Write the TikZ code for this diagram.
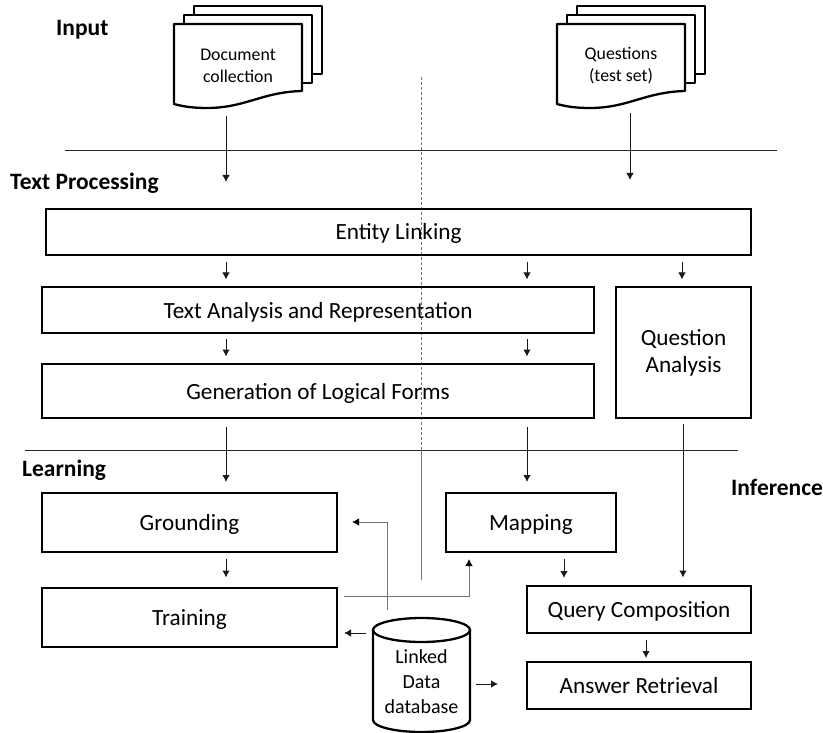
\documentclass[tikz,border=0pt]{standalone}
\usepackage{fontspec}
\setmainfont{Carlito}
\usetikzlibrary{arrows.meta}
\tikzset{
  x=1pt,y=-1pt,
  procbox/.style={draw=black,line width=2.3pt,inner sep=0pt,font=\fontsize{23.2}{27}\selectfont,align=center,text height=21pt,text depth=5pt},
  tallbox/.style={draw=black,line width=2.3pt,inner sep=0pt,font=\fontsize{23.2}{27}\selectfont,align=center},
  arr/.style={draw=black!90,line width=1pt,-{Latex[length=7pt,width=7.5pt]}},
  grayarr/.style={draw=black!55,line width=1pt,-{Latex[length=7pt,width=7.5pt,black]}},
  sep/.style={draw=black!85,line width=0.9pt},
  sheet/.style={draw=black,line width=2.3pt,fill=white,line join=round},
  doctext/.style={font=\fontsize{17.8}{22}\selectfont,align=center,inner sep=0pt},
  head/.style={font=\fontsize{23.5}{26}\selectfont\bfseries,inner sep=0pt,anchor=west},
}
\newcommand{\boxat}[6]{\node[procbox,minimum width=#4-#3,minimum height=#6-#5] (#1) at ({(#3+#4)/2},{(#5+#6)/2}) {#2};}
\newcommand{\docsheet}[2]{% left, top
  \draw[sheet] (#1,#2) -- ++(128,0) -- ++(0,68) -- ++(-128,0) -- cycle;}
\begin{document}
\begin{tikzpicture}
\useasboundingbox (0,0) rectangle (823,733);
% separators
\coordinate (s1l) at (65,150); \coordinate (s1r) at (777,150);
\coordinate (s2l) at (25,450); \coordinate (s2r) at (738,450);
\coordinate (vt) at (421,77); \coordinate (vm) at (421,450); \coordinate (vb) at (421,580);
\draw[sep] (s1l) -- (s1r);
\draw[sep] (s2l) -- (s2r);
\draw[draw=black!55,line width=1pt,dash pattern=on 3pt off 2pt] (vt) -- (vm);
\draw[draw=black!55,line width=1pt] (vm) -- (vb);
% headings
\node[head] (hinput) at (56,30) {Input};
\node[head] (htext) at (10,183) {Text Processing};
\node[head] (hlearn) at (22,470) {Learning};
\node[head] (hinf) at (731,487) {Inference};
% documents
\docsheet{194}{6}
\docsheet{184}{15}
\draw[sheet] (174,24) -- (302,24) -- (302,91) .. controls (262,92) and (245,108) .. (207,108) .. controls (195,108) and (185,107) .. (174,104) -- cycle;
\node[doctext] (doc) at (238,65.5) {Document\\collection};
\docsheet{577}{6}
\docsheet{567}{15}
\draw[sheet] (557,24) -- (685,24) -- (685,91) .. controls (645,92) and (628,108) .. (590,108) .. controls (578,108) and (568,107) .. (557,104) -- cycle;
\node[doctext] (ques) at (621,66) {Questions\\(test set)};
% boxes
\boxat{el}{Entity Linking}{46}{751}{209}{255}
\boxat{ta}{Text Analysis and Representation}{42}{594}{287}{333}
\boxat{gl}{Generation of Logical Forms}{42}{594}{364}{418}
\node[tallbox,minimum width=135pt,minimum height=131pt] (qa) at (683.5,352.5) {\raisebox{-1.5pt}{Question}\\\raisebox{-1.5pt}{Analysis}};
\boxat{gr}{Grounding}{42}{337}{493}{552}
\boxat{tr}{Training}{42}{337}{588}{647}
\boxat{ma}{Mapping}{446}{616}{493}{552}
\boxat{qc}{Query Composition}{527}{751}{586}{633}
\boxat{ar}{Answer Retrieval}{527}{751}{662}{709}
% cylinder
\draw[sheet] (373,630) -- (373,720) arc[start angle=180,end angle=360,x radius=48.5,y radius=-12] -- (470,630);
\draw[sheet] (421.5,630) ellipse[x radius=48.5,y radius=12];
\node[font=\fontsize{20}{25}\selectfont,align=center,inner sep=0pt] (db) at (421.5,682) {Linked\\Data\\database};
% arrows
\coordinate (a1) at (226,116); \coordinate (a1e) at (226,182);
\coordinate (a2) at (630,113); \coordinate (a2e) at (630,180);
\draw[arr] (a1) -- (a1e);
\draw[arr] (a2) -- (a2e);
\foreach \n/\xx/\ya/\yb in {b1/226/262/279.5,b2/527/262/279.5,b3/682/262/279.5,b4/226/339/356.5,b5/527/339/356.5,b6/226/427/482,b7/527/427/482,b8/683/424/577.5,b9/226/559/577.5,b10/564/559/578,b11/646/640/658}{
  \coordinate (\n s) at (\xx,\ya); \coordinate (\n e) at (\xx,\yb);
  \draw[arr] (\n s) -- (\n e);
}
\coordinate (c1s) at (387,610); \coordinate (c1k) at (387,522); \coordinate (c1e) at (352,522);
\draw[grayarr] (c1s) -- (c1k) -- (c1e);
\coordinate (c2s) at (344,596); \coordinate (c2k) at (469,596); \coordinate (c2e) at (469,559);
\draw[grayarr] (c2s) -- (c2k) -- (c2e);
\coordinate (c3s) at (366,633); \coordinate (c3e) at (344,633);
\draw[arr] (c3s) -- (c3e);
\coordinate (c4s) at (476,684); \coordinate (c4e) at (498,684);
\draw[arr] (c4s) -- (c4e);
\end{tikzpicture}
\end{document}
